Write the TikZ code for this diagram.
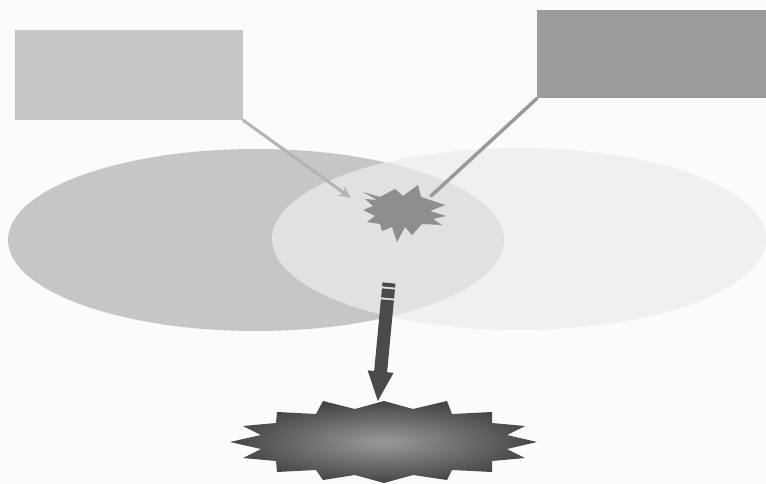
\documentclass[tikz,border=0pt]{standalone}
\usetikzlibrary{shapes.geometric,arrows.meta}
\definecolor{bgc}{HTML}{FBFBFB}
\definecolor{lboxc}{HTML}{C6C6C6}
\definecolor{rboxc}{HTML}{9C9C9C}
\definecolor{lellc}{HTML}{C6C6C6}
\definecolor{rellc}{HTML}{ECECEC}
\definecolor{lconc}{HTML}{B4B4B4}
\definecolor{rconc}{HTML}{9A9A9A}
\definecolor{starc}{HTML}{8E8E8E}
\definecolor{arrc}{HTML}{4A4A4A}
\definecolor{bigin}{HTML}{9A9A9A}
\definecolor{bigout}{HTML}{454545}
\tikzset{
  boxshape/.style={rectangle, inner sep=0pt, draw=none},
  ellshape/.style={ellipse, inner sep=0pt, draw=none, minimum width=496pt, minimum height=182pt},
  connector/.style={line width=3pt, line cap=round},
}
\begin{document}
\begin{tikzpicture}[x=1pt,y=-1pt]
\fill[bgc] (0,0) rectangle (766,484);
\useasboundingbox (0,0) rectangle (766,484);

% ellipses
\node[ellshape, fill=lellc] (lell) at (256,240) {};
\node[ellshape, fill=rellc, fill opacity=0.72, minimum width=494pt] (rell) at (519,239) {};

% boxes
\node[boxshape, fill=lboxc, minimum width=228pt, minimum height=90pt, anchor=north west] (lbox) at (15,30) {};
\node[boxshape, fill=rboxc, minimum width=229pt, minimum height=88pt, anchor=north west] (rbox) at (537,10) {};

% small star
\coordinate (sstar) at (400,211);
\fill[starc] (363,192) -- (380,197) -- (395,189) -- (403,196) -- (418,185) -- (421,197)
  -- (445,205) -- (430,211) -- (446,216) -- (433,219) -- (442,225) -- (422,224)
  -- (412,235) -- (405,227) -- (397,242) -- (392,227) -- (382,231) -- (380,224)
  -- (367,222) -- (375,216) -- (363,210) -- (373,206) -- (365,199) -- (377,200) -- cycle;

% connectors from the boxes
\coordinate (ltip) at (351,198);
\coordinate (rtip) at (431,196);
\draw[connector, lconc, -{Stealth[length=12pt,width=11pt,inset=4pt]}] (lbox.south east) -- (ltip);
\draw[connector, rconc, line width=3.5pt] (rbox.south west) -- (rtip);

% big star
\coordinate (bstar) at (384,442);
\shade[inner color=bigin, outer color=bigout, shift={(384,442)}]
  (0,-41) -- (29,-33) -- (63,-41) -- (68,-28) -- (108,-30) -- (108,-19) -- (141,-16)
  -- (123,-7) -- (153,0) -- (123,7) -- (141,16) -- (108,19) -- (108,30) -- (68,28)
  -- (63,38) -- (29,33) -- (0,41) -- (-29,33) -- (-61,38) -- (-68,28) -- (-107,30)
  -- (-108,19) -- (-141,16) -- (-123,7) -- (-154,0) -- (-123,-7) -- (-141,-16)
  -- (-108,-19) -- (-107,-30) -- (-68,-28) -- (-61,-41) -- (-29,-33) -- cycle;

% big arrow (striped)
\coordinate (astart) at (389,283);
\coordinate (aend) at (378,401);
\begin{scope}[shift={(astart)}, rotate=-95.4]
  \fill[arrc] (0,-6.5) rectangle (4,6.5);
  \fill[arrc] (6,-6.5) rectangle (15,6.5);
  \fill[arrc] (17,-6.5) -- (89,-6.5) -- (89,-13) -- (118.5,0) -- (89,13) -- (89,6.5) -- (17,6.5) -- cycle;
\end{scope}
\end{tikzpicture}
\end{document}
